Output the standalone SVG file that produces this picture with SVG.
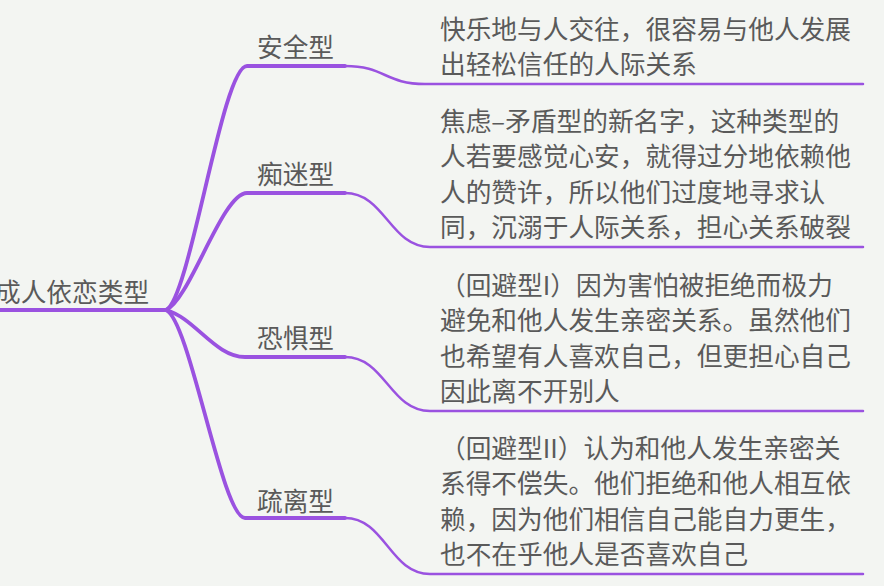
<svg xmlns="http://www.w3.org/2000/svg" width="884" height="586" viewBox="0 0 884 586">
<style>
text{font-family:"Noto Sans CJK SC","Noto Sans",sans-serif;fill:#5a5a5a;font-size:25.7px}
.thick{fill:none;stroke:#9a52e0;stroke-width:3.8;stroke-linecap:round}
.thin{fill:none;stroke:#9a52e0;stroke-width:2.5;stroke-linecap:round}
</style>
<rect width="884" height="586" fill="#f3f5f2"/>
<g id="connectors">
<path class="thick" d="M166 310 C190 300 222 66 247 66 H345"/>
<path class="thick" d="M166 310 C190 300 222 193 247 193 H345"/>
<path class="thick" d="M166 310 C195 318 215 357 245 357 H345"/>
<path class="thick" d="M166 310 C190 320 222 518 245 518 H345"/>
<path class="thin" d="M345 66 C385 66 385 84 425 84 H863"/>
<path class="thin" d="M345 193 C385 193 390 247 430 247 H863"/>
<path class="thin" d="M345 357 C385 357 390 411 430 411 H863"/>
<path class="thin" d="M345 518 C385 518 390 574 430 574 H863"/>
</g>
<g id="root">
<path class="thick" d="M-5 310 H166"/>
<text x="-5" y="302">成人依恋类型</text>
</g>
<g id="secure"><text x="257" y="57">安全型</text></g>
<g id="preoccupied"><text x="257" y="184">痴迷型</text></g>
<g id="fearful"><text x="257" y="348">恐惧型</text></g>
<g id="dismissing"><text x="257" y="511">疏离型</text></g>
<g id="secure-desc">
<text x="440" y="39">快乐地与人交往，很容易与他人发展</text>
<text x="440" y="74">出轻松信任的人际关系</text>
</g>
<g id="preoccupied-desc">
<text x="440" y="131">焦虑–矛盾型的新名字，这种类型的</text>
<text x="440" y="166">人若要感觉心安，就得过分地依赖他</text>
<text x="440" y="201.5">人的赞许，所以他们过度地寻求认</text>
<text x="440" y="237">同，沉溺于人际关系，担心关系破裂</text>
</g>
<g id="fearful-desc">
<text x="440" y="295">（回避型I）因为害怕被拒绝而极力</text>
<text x="440" y="330">避免和他人发生亲密关系。虽然他们</text>
<text x="440" y="365.5">也希望有人喜欢自己，但更担心自己</text>
<text x="440" y="401">因此离不开别人</text>
</g>
<g id="dismissing-desc">
<text x="440" y="457.5">（回避型II）认为和他人发生亲密关</text>
<text x="440" y="493">系得不偿失。他们拒绝和他人相互依</text>
<text x="440" y="528.5">赖，因为他们相信自己能自力更生，</text>
<text x="440" y="564">也不在乎他人是否喜欢自己</text>
</g>
</svg>
